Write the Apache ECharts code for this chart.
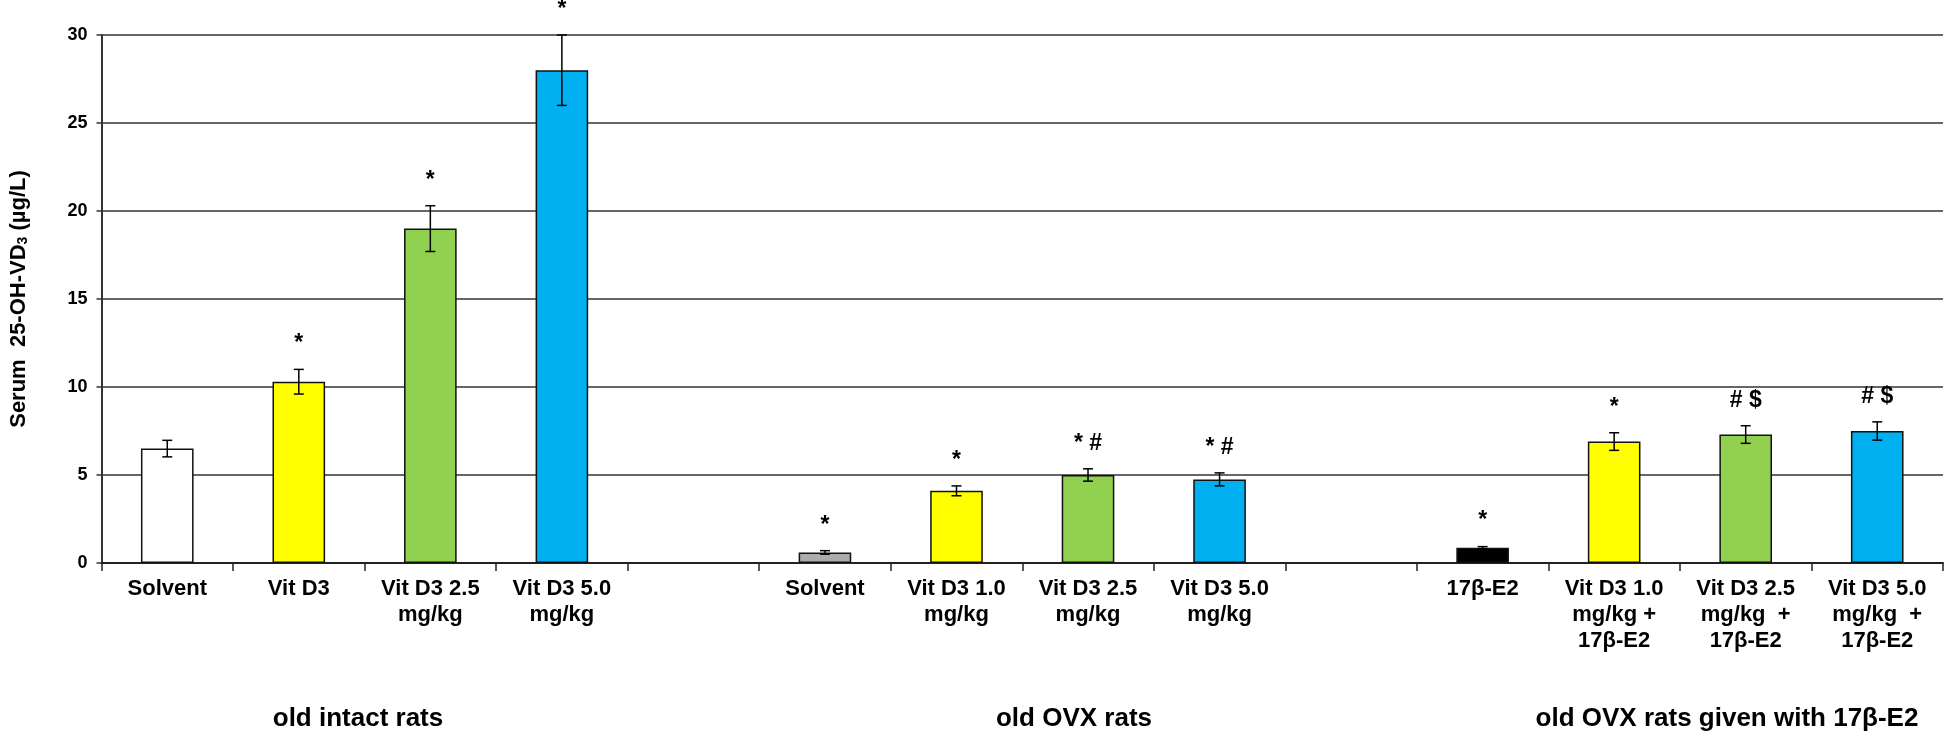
<!DOCTYPE html>
<html>
<head>
<meta charset="utf-8">
<script src="https://cdn.jsdelivr.net/npm/echarts@6/dist/echarts.min.js"></script>
<style>
  html, body { margin: 0; padding: 0; background: #fff; }
  #main { width: 1946px; height: 736px; }
</style>
</head>
<body>
<div id="main"></div>
<script>
const chart = echarts.init(document.querySelector('#main'));

// categories (empty slots separate the three groups)
const categories = [
    'Solvent', 'Vit D3', 'Vit D3 2.5\nmg/kg', 'Vit D3 5.0\nmg/kg',
    '',
    'Solvent', 'Vit D3 1.0\nmg/kg', 'Vit D3 2.5\nmg/kg', 'Vit D3 5.0\nmg/kg',
    ' ',
    '17β-E2', 'Vit D3 1.0\nmg/kg +\n17β-E2', 'Vit D3 2.5\nmg/kg  +\n17β-E2', 'Vit D3 5.0\nmg/kg  +\n17β-E2'
];
const means = [6.5, 10.3, 19.0, 28.0, null, 0.6, 4.1, 5.0, 4.75, null, 0.87, 6.9, 7.3, 7.5];
const errors = [0.47, 0.7, 1.3, 2.0, null, 0.1, 0.28, 0.35, 0.37, null, 0.06, 0.5, 0.5, 0.52];
const signs = ['', '*', '*', '*', '', '*', '*', '* #', '* #', '', '*', '*', '# $', '# $'];
const barColors = ['#ffffff', '#ffff00', '#92d050', '#00b0f0', null,
    '#afabab', '#ffff00', '#92d050', '#00b0f0', null,
    '#000000', '#ffff00', '#92d050', '#00b0f0'];
const groups = ['old intact rats', 'old OVX rats', 'old OVX rats given with 17β-E2'];
const yTicks = [0, 5, 10, 15, 20, 25, 30];

const FONT = '"Liberation Sans", Arial, sans-serif';

let option = {
    animation: false,
    backgroundColor: '#fff',
    grid: { left: 93, right: 3, top: 35, bottom: 173 },
    xAxis: {
        type: 'category',
        data: categories,
        axisLine: { lineStyle: { color: '#222', width: 2 } },
        axisTick: { show: true, length: 8, lineStyle: { color: '#222', width: 1.5 } },
        axisLabel: {
            interval: 0,
            margin: 13,
            color: '#000',
            fontFamily: FONT,
            fontWeight: 'bold',
            fontSize: 22,
            lineHeight: 26
        }
    },
    yAxis: {
        type: 'value',
        min: yTicks[0],
        max: yTicks[yTicks.length - 1],
        interval: 5,
        name: '{t|Serum  25-OH-VD}{s|3}{t| (µg/L)}',
        nameLocation: 'middle',
        nameGap: 71,
        nameTextStyle: {
            rich: {
                t: { fontFamily: FONT, fontWeight: 'bold', fontSize: 22, color: '#000' },
                s: { fontFamily: FONT, fontWeight: 'bold', fontSize: 14, color: '#000', padding: [9, 0, 0, 0] }
            }
        },
        axisLine: { show: true, lineStyle: { color: '#333', width: 2 } },
        axisTick: { show: true, length: 5, lineStyle: { color: '#333', width: 1.5 } },
        axisLabel: { margin: 14, color: '#000', fontFamily: FONT, fontWeight: 'bold', fontSize: 18 },
        splitLine: { lineStyle: { color: '#333', width: 1.5 } }
    },
    series: [
        {
            type: 'bar',
            barWidth: '40%',
            data: means.map((v, i) => ({
                value: v,
                itemStyle: { color: barColors[i], borderColor: '#111', borderWidth: 1.5 }
            })),
            z: 2
        },
        {
            type: 'custom',
            clip: false,
            z: 3,
            data: means.map((v, i) => [i, v, errors[i]]).filter(d => d[1] !== null),
            renderItem: (params, api) => {
                const i = api.value(0);
                const v = api.value(1);
                const e = api.value(2);
                const top = api.coord([i, v + e]);
                const bot = api.coord([i, v - e]);
                const x = top[0];
                const hw = 5;
                const ls = { stroke: '#000', lineWidth: 1.5 };
                return {
                    type: 'group',
                    children: [
                        { type: 'line', shape: { x1: x, y1: top[1], x2: x, y2: bot[1] }, style: ls },
                        { type: 'line', shape: { x1: x - hw, y1: top[1], x2: x + hw, y2: top[1] }, style: ls },
                        { type: 'line', shape: { x1: x - hw, y1: bot[1], x2: x + hw, y2: bot[1] }, style: ls },
                        {
                            type: 'text',
                            style: {
                                text: signs[i],
                                x: x,
                                y: top[1] - 14,
                                align: 'center',
                                verticalAlign: 'bottom',
                                font: 'bold 23px ' + FONT,
                                fill: '#000'
                            }
                        }
                    ]
                };
            }
        }
    ],
    graphic: groups.map((g, k) => ({
        type: 'text',
        x: [358, 1074, 1727][k],
        y: 719,
        style: { text: g, font: 'bold 26px ' + FONT, fill: '#000', align: 'center', verticalAlign: 'middle' }
    }))
};

chart.setOption(option);
</script>
</body>
</html>
